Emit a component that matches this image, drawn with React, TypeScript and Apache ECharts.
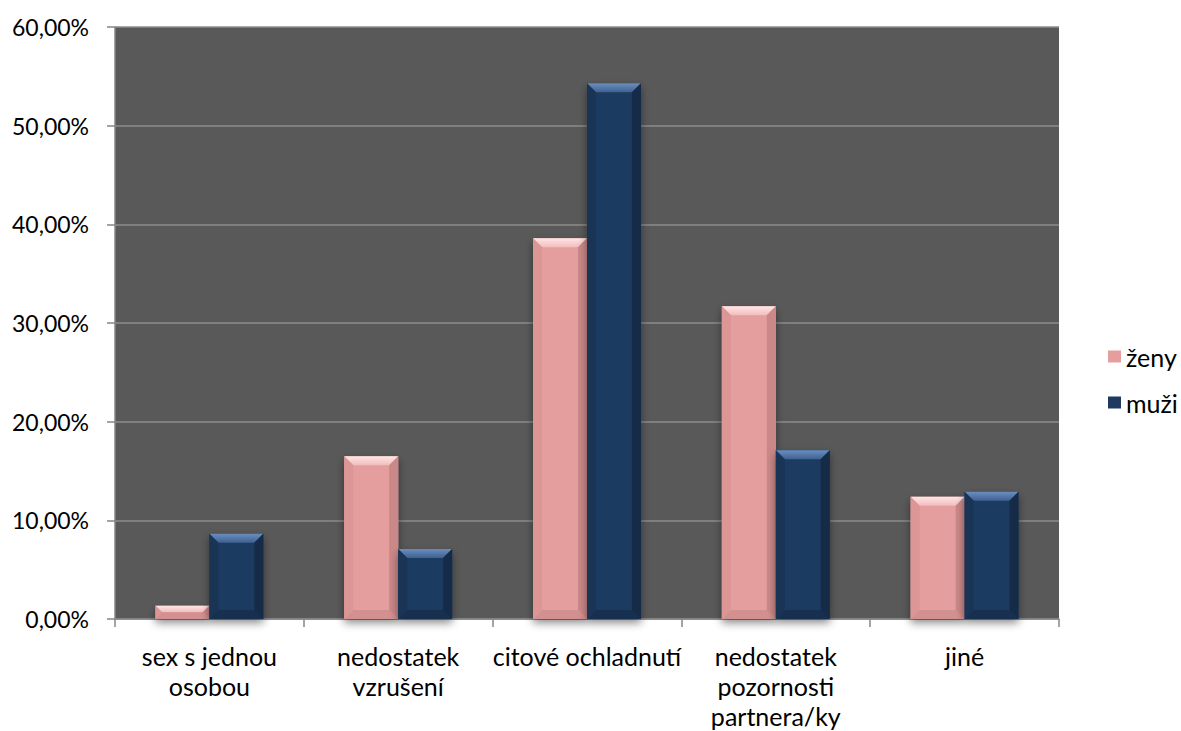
import React, { useEffect, useRef } from "react";
import * as echarts from "echarts";

const categories = [
  "sex s jednou\nosobou",
  "nedostatek\nvzrušení",
  "citové ochladnutí",
  "nedostatek\npozornosti\npartnera/ky",
  "jiné",
];
const seriesNames = ["ženy", "muži"];
const zenyValues = [1.35, 16.5, 38.6, 31.7, 12.4];
const muziValues = [8.65, 7.1, 54.3, 17.1, 12.9];
const yTicks = { min: 0, max: 60, interval: 10 };

const FONT = "Lato";

const palettes = [
  {
    base: "#E49E9E",
    topA: "#FFE6E6",
    topB: "#F2BDBD",
    left: "#DC9696",
    right: "#CB8888",
    bottom: "#D39090",
    legend: "#E49E9E",
  },
  {
    base: "#1E3A60",
    topA: "#6A8FBF",
    topB: "#3F6192",
    left: "#1A3456",
    right: "#152B48",
    bottom: "#17304F",
    legend: "#1E3A60",
  },
];

function makeRenderItem(si: number) {
  const p = palettes[si];
  return (params: any, api: any) => {
    const idx = api.value(0);
    const val = api.value(1);
    const base = api.coord([idx, 0]);
    const topPt = api.coord([idx, val]);
    const cw = api.size([1, 0])[0];
    const bw = cw * 0.2857;
    const l = base[0] - bw + si * bw;
    const r = l + bw;
    const t = topPt[1];
    const bt = base[1];
    const h = bt - t;
    const b = Math.max(1, Math.min(9, h / 2, bw / 2));
    return {
      type: "group",
      children: [
        {
          type: "rect",
          shape: { x: l, y: t, width: bw, height: h },
          style: {
            fill: p.base,
            shadowBlur: 8,
            shadowColor: "rgba(0,0,0,0.45)",
            shadowOffsetY: 4,
          },
        },
        {
          type: "polygon",
          shape: { points: [[l, t], [r, t], [r - b, t + b], [l + b, t + b]] },
          style: {
            fill: new echarts.graphic.LinearGradient(0, 0, 0, 1, [
              { offset: 0, color: p.topA },
              { offset: 1, color: p.topB },
            ]),
          },
        },
        {
          type: "polygon",
          shape: { points: [[l, bt], [r, bt], [r - b, bt - b], [l + b, bt - b]] },
          style: { fill: p.bottom },
        },
        {
          type: "polygon",
          shape: { points: [[l, t], [l + b, t + b], [l + b, bt - b], [l, bt]] },
          style: { fill: p.left },
        },
        {
          type: "polygon",
          shape: { points: [[r, t], [r - b, t + b], [r - b, bt - b], [r, bt]] },
          style: { fill: p.right },
        },
      ],
    };
  };
}

export default function App() {
  const ref = useRef<HTMLDivElement>(null);
  useEffect(() => {
    if (!ref.current) return;
    document.body.style.margin = "0";
    document.body.style.overflow = "hidden";
    const chart = echarts.init(ref.current, null, { renderer: "svg" });
    const seriesData = [zenyValues, muziValues];
    chart.setOption({
      animation: false,
      backgroundColor: "#ffffff",
      textStyle: { fontFamily: FONT },
      grid: { left: 115, right: 122, top: 27, bottom: 110, containLabel: false, show: true, backgroundColor: "#595959", borderWidth: 0 },
      legend: {
        orient: "vertical",
        left: 1103,
        top: 339,
        itemWidth: 13,
        itemHeight: 12,
        itemGap: 21,
        icon: "rect",
        textStyle: { fontFamily: FONT, fontSize: 25, color: "#000" },
        data: seriesNames.map((n, i) => ({ name: n, itemStyle: { color: palettes[i].legend } })),
      },
      xAxis: {
        type: "category",
        data: categories,
        axisLine: { show: true, lineStyle: { color: "#868686", width: 1.5 } },
        axisTick: { show: true, length: 8, lineStyle: { color: "#868686", width: 1.5 } },
        axisLabel: { color: "#000", fontSize: 25, fontFamily: FONT, margin: 22, lineHeight: 30, interval: 0 },
        splitLine: { show: false },
      },
      yAxis: {
        type: "value",
        min: yTicks.min,
        max: yTicks.max,
        interval: yTicks.interval,
        axisLine: { show: true, lineStyle: { color: "#868686", width: 1.5 } },
        axisTick: { show: true, length: 8, lineStyle: { color: "#868686", width: 1.5 } },
        axisLabel: {
          color: "#000",
          fontSize: 23,
          fontFamily: FONT,
          margin: 26,
          formatter: (v: number) => v.toFixed(2).replace(".", ",") + "%",
        },
        splitLine: { show: true, lineStyle: { color: "#8C8C8C", width: 1.5 } },
      },
      series: seriesNames.map((name, si) => ({
        type: "custom",
        name,
        itemStyle: { color: palettes[si].legend },
        renderItem: makeRenderItem(si),
        encode: { x: 0, y: 1 },
        data: seriesData[si].map((v, i) => [i, v]),
        clip: false,
      })),
    });
    return () => chart.dispose();
  }, []);
  return <div ref={ref} style={{ width: 1181, height: 731 }} />;
}
